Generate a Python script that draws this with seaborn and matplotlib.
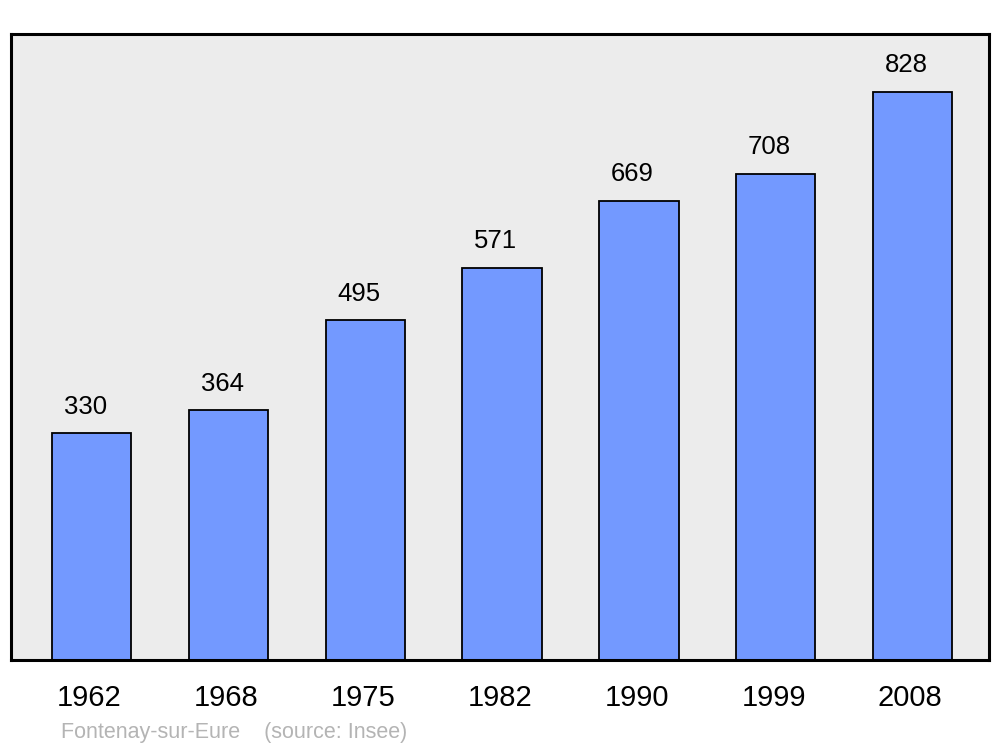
import matplotlib
matplotlib.use("Agg")
import matplotlib.pyplot as plt
import matplotlib.transforms as mtransforms
import seaborn as sns
import pandas as pd

# population par recensement
years = ['1962', '1968', '1975', '1982', '1990', '1999', '2008']
population = [330, 364, 495, 571, 669, 708, 828]

df = pd.DataFrame({'year': years, 'pop': population})

sns.set_style("white")
plt.rcParams['font.family'] = ['Liberation Sans', 'DejaVu Sans']

fig = plt.figure(figsize=(10, 7.47), dpi=100)
ax = fig.add_axes([0.011, 0.1165, 0.978, 0.838])
ax.set_facecolor('#ececec')

sns.barplot(x='year', y='pop', data=df, color='#7399ff', saturation=1,
            width=0.58, edgecolor='black', linewidth=1.3, ax=ax)

for i, v in enumerate(population):
    ax.annotate(str(v), (i, v), xytext=(-4.5, 10.5), textcoords='offset points',
                ha='center', va='bottom', fontsize=18.5, color='black')

ax.set_xlim(-0.59, 6.56)
ax.set_ylim(0, 912)
ax.set_yticks([])
ax.set_xlabel('')
ax.set_ylabel('')
ax.tick_params(axis='x', length=0, pad=17, labelsize=21, labelcolor='black')
# decale un peu les annees vers la gauche
shift = mtransforms.ScaledTranslation(-1.5 / 72, 0, fig.dpi_scale_trans)
for lbl in ax.get_xticklabels():
    lbl.set_transform(lbl.get_transform() + shift)
for s in ax.spines.values():
    s.set_visible(True)
    s.set_color('black')
    s.set_linewidth(2.2)

fig.text(0.061, 0.012, 'Fontenay-sur-Eure    (source: Insee)', color='#b4b4b4',
         fontsize=15.5, ha='left', va='baseline')

fig.savefig('out.png', dpi=100, facecolor='white')
